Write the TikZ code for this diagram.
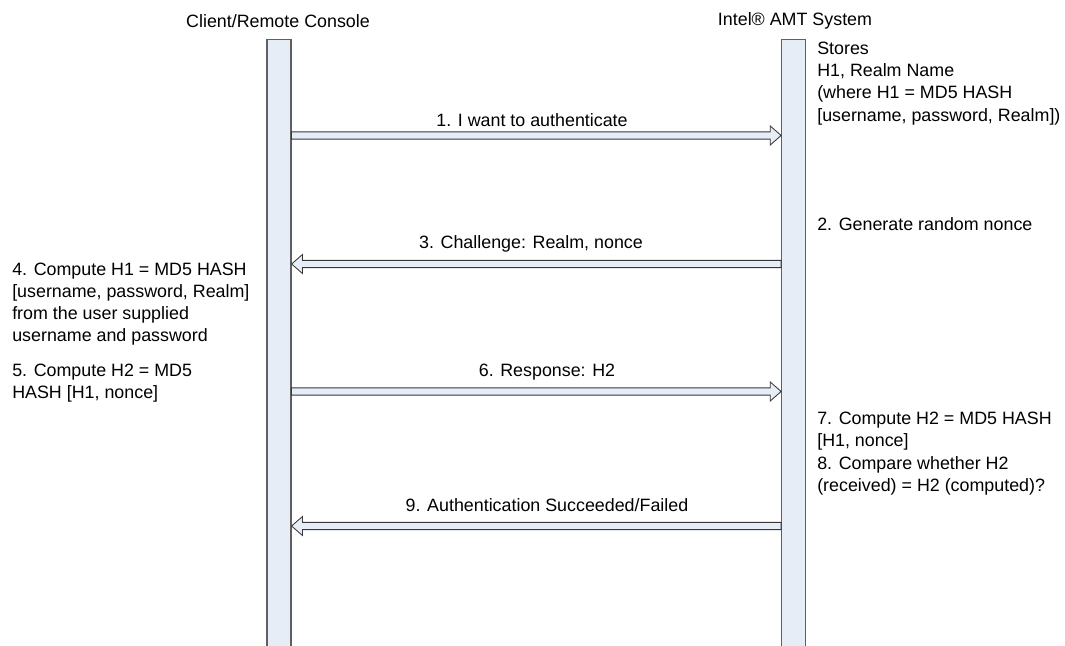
\documentclass[tikz,border=0pt]{standalone}
\usepackage{fontspec}
\setmainfont{Liberation Sans}
\usetikzlibrary{calc}

\definecolor{barfill}{RGB}{230,237,247}
\definecolor{baredge}{RGB}{95,95,95}
\definecolor{arredge}{RGB}{55,55,55}

% hollow block arrow from #1 to #2 (named coordinates)
\newcommand{\msgarrow}[2]{%
  \draw[msg] let \p1=(#1), \p2=(#2), \p3=($(#2)!7.8pt!(#1)$) in
    (\x1,\y1+2.6pt) -- (\x3,\y1+2.6pt) -- (\x3,\y1+6.8pt) -- (\x2,\y2)
    -- (\x3,\y1-6.8pt) -- (\x3,\y1-2.6pt) -- (\x1,\y1-2.6pt) -- cycle;}

\begin{document}
\begin{tikzpicture}[
    x=0.025cm, y=-0.025cm,
    every node/.style={font=\fontsize{12.7}{15.7}\selectfont},
    lifeline/.style={rectangle, draw=baredge, fill=barfill, line width=0.8pt, minimum height=15.25cm, inner sep=0pt},
    note/.style={anchor=west, align=left, inner sep=0pt},
    msglabel/.style={inner sep=0pt},
    msg/.style={draw=arredge, fill=barfill, line width=0.6pt}
]
\useasboundingbox (0,0) rectangle (1065,645);

% Headers
\node (hconsole) at (278,21) {Client/Remote Console};
\node (hamt) at (795,21) {Intel® AMT System};

% Lifelines
\node[lifeline, minimum width=0.6cm] (console) at (279,345) {};
\node[lifeline, minimum width=0.59cm] (amt) at (793.5,345) {};

% Message end points
\coordinate (s1) at (console.east |- 0,135.5);
\coordinate (t1) at (amt.west |- 0,135.5);
\coordinate (s3) at (amt.west |- 0,264);
\coordinate (t3) at (console.east |- 0,264);
\coordinate (s6) at (console.east |- 0,391.5);
\coordinate (t6) at (amt.west |- 0,391.5);
\coordinate (s9) at (amt.west |- 0,526);
\coordinate (t9) at (console.east |- 0,526);

% Messages
\msgarrow{s1}{t1}
\msgarrow{s3}{t3}
\msgarrow{s6}{t6}
\msgarrow{s9}{t9}

\node[msglabel] (l1) at (532,120) {1. I want to authenticate};
\node[msglabel] (l3) at (531,244) {3. Challenge: Realm, nonce};
\node[msglabel] (l6) at (547,372) {6. Response: H2};
\node[msglabel] (l9) at (547,505) {9. Authentication Succeeded/Failed};

% System side notes
\node[note] (stores) at (817,83.5) {Stores\\H1, Realm Name\\(where H1 = MD5 HASH\\{[}username, password, Realm])};
\node[note] (step2) at (817,224) {2. Generate random nonce};
\node[note] (step7) at (817,431) {7. Compute H2 = MD5 HASH\\{[}H1, nonce]};
\node[note] (step8) at (817,476) {8. Compare whether H2\\(received) = H2 (computed)?};

% Console side notes
\node[note] (step4) at (12,304) {4. Compute H1 = MD5 HASH\\{[}username, password, Realm]\\from the user supplied\\username and password};
\node[note] (step5) at (12,383.5) {5. Compute H2 = MD5\\HASH [H1, nonce]};

\end{tikzpicture}
\end{document}
